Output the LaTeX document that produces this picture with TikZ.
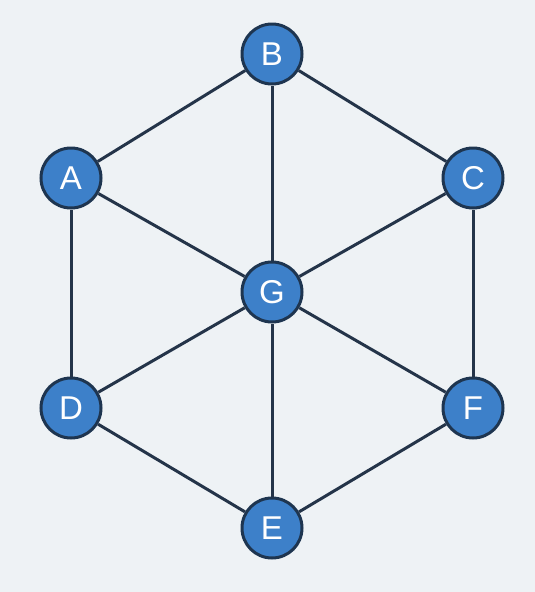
\documentclass[tikz,border=0pt]{standalone}
\usepackage{fontspec}
\setmainfont{Liberation Sans}
\definecolor{bg}{HTML}{EEF2F5}
\definecolor{nodefill}{HTML}{3D80C9}
\definecolor{nodeedge}{HTML}{1E3550}
\definecolor{edgecol}{HTML}{243449}
\begin{document}
\begin{tikzpicture}[x=1pt,y=-1pt,
  vert/.style={circle,draw=nodeedge,line width=3pt,fill=nodefill,minimum size=60pt,inner sep=0pt,text=white,font=\fontsize{33}{36}\selectfont},
  conn/.style={draw=edgecol,line width=3pt}]
\fill[bg] (0,0) rectangle (535,592);
\useasboundingbox (0,0) rectangle (535,592);
\node[vert] (B) at (272,54) {B};
\node[vert] (A) at (71,178) {A};
\node[vert] (C) at (473,178) {C};
\node[vert] (G) at (272,292) {G};
\node[vert] (D) at (71,408) {D};
\node[vert] (F) at (473,408) {F};
\node[vert] (E) at (272,528) {E};
\foreach \u/\v in {A/B,B/C,A/D,C/F,D/E,E/F,A/G,B/G,C/G,D/G,E/G,F/G}
  \draw[conn] (\u) -- (\v);
\end{tikzpicture}
\end{document}
